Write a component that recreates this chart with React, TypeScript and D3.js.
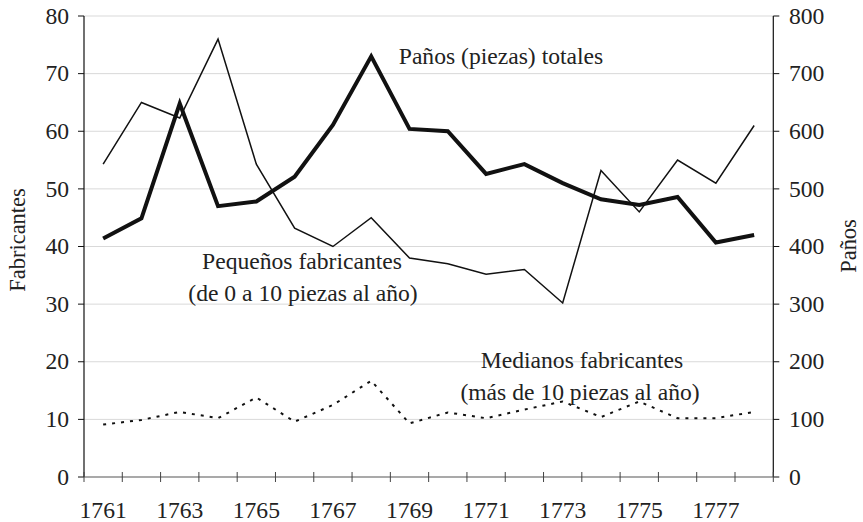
import React from "react";
import * as d3 from "d3";

const years = ["1761","1762","1763","1764","1765","1766","1767","1768","1769","1770","1771","1772","1773","1774","1775","1776","1777","1778"];
const pequenos = [54.3, 65, 62.3, 76, 54.3, 43.2, 40, 45, 38, 37, 35.2, 36, 30.2, 53.2, 46, 55, 51, 61];
const panos = [414, 449, 648, 470, 478, 521, 611, 730, 604, 600, 526, 543, 510, 482, 472, 486, 407, 420];
const medianos = [9.1, 9.9, 11.3, 10.2, 13.8, 9.6, 12.5, 16.7, 9.3, 11.2, 10.2, 11.7, 13.1, 10.4, 13.1, 10.2, 10.2, 11.3];
const leftTicks = [0, 10, 20, 30, 40, 50, 60, 70, 80];
const rightTicks = [0, 100, 200, 300, 400, 500, 600, 700, 800];
const xLabels = ["1761","1763","1765","1767","1769","1771","1773","1775","1777"];

const W = 863, H = 522;
const X0 = 84, X1 = 773.3, Y0 = 477, Y1 = 16;
const FONT = "'Liberation Serif', 'Times New Roman', serif";
const FS = 22.5;
const SX = 1.05;

function T({ x, y, anchor = "middle", dy, rotate, children }: { x: number; y: number; anchor?: string; dy?: string; rotate?: number; children: React.ReactNode }) {
  const tr = `translate(${x},${y}) scale(${SX},1)` + (rotate ? ` rotate(${rotate})` : "");
  return (
    <text transform={tr} textAnchor={anchor as any} dy={dy} fontSize={FS} fill="#222">
      {children}
    </text>
  );
}

export default function App() {
  const x = d3.scaleBand<string>().domain(years).range([X0, X1]).padding(0);
  const yL = d3.scaleLinear().domain([0, 80]).range([Y0, Y1]);
  const yR = d3.scaleLinear().domain([0, 800]).range([Y0, Y1]);
  const cx = (y: string) => (x(y) as number) + x.bandwidth() / 2;

  const lineL = d3.line<number>().x((_, i) => cx(years[i])).y((d) => yL(d));
  const lineR = d3.line<number>().x((_, i) => cx(years[i])).y((d) => yR(d));

  const boundaries = d3.range(years.length + 1).map((i) => X0 + i * x.step());

  return (
    <svg width={W} height={H} style={{ position: "absolute", left: 0, top: 0, background: "#fff" }} fontFamily={FONT}>
      {leftTicks.filter((t) => t > 0).map((t) => (
        <line key={"g" + t} x1={X0} x2={X1} y1={yL(t)} y2={yL(t)} stroke="#d9d9d9" strokeWidth={1} />
      ))}
      <line x1={X0} x2={X0} y1={Y1} y2={Y0} stroke="#111" strokeWidth={1.2} />
      {leftTicks.map((t) => (
        <g key={"l" + t}>
          <line x1={X0 - 6} x2={X0} y1={yL(t)} y2={yL(t)} stroke="#111" strokeWidth={1} />
          <T x={69} y={yL(t)} dy="0.34em" anchor="end">{t}</T>
        </g>
      ))}
      <line x1={X1} x2={X1} y1={Y1} y2={Y0} stroke="#111" strokeWidth={1.2} />
      {rightTicks.map((t) => (
        <g key={"r" + t}>
          <line x1={X1} x2={X1 + 6} y1={yR(t)} y2={yR(t)} stroke="#111" strokeWidth={1} />
          <T x={789} y={yR(t)} dy="0.34em" anchor="start">{t}</T>
        </g>
      ))}
      <line x1={X0} x2={X1} y1={Y0} y2={Y0} stroke="#555" strokeWidth={1.2} />
      {boundaries.map((b, i) => (
        <line key={"xt" + i} x1={b} x2={b} y1={Y0 - 5} y2={Y0 + 5} stroke="#444" strokeWidth={1} />
      ))}
      {xLabels.map((l) => (
        <T key={"xl" + l} x={cx(l)} y={518}>{l}</T>
      ))}
      <T x={25} y={240} rotate={-90}>Fabricantes</T>
      <T x={856} y={246} rotate={-90}>Paños</T>

      <path d={lineL(medianos) || ""} fill="none" stroke="#111" strokeWidth={2} strokeDasharray="3 6" />
      <path d={lineL(pequenos) || ""} fill="none" stroke="#111" strokeWidth={1.5} strokeLinejoin="miter" />
      <path d={lineR(panos) || ""} fill="none" stroke="#111" strokeWidth={4} strokeLinejoin="miter" />

      <T x={501} y={64}>Paños (piezas) totales</T>
      <T x={302} y={269}>Pequeños fabricantes</T>
      <T x={303} y={301}>(de 0 a 10 piezas al año)</T>
      <T x={582} y={368}>Medianos fabricantes</T>
      <T x={580} y={400}>(más de 10 piezas al año)</T>
    </svg>
  );
}
